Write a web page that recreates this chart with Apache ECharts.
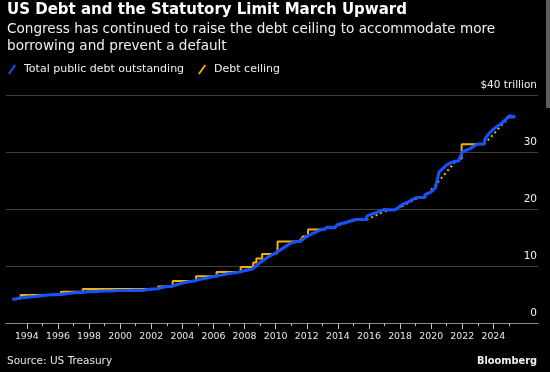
<!DOCTYPE html>
<html>
<head>
<meta charset="utf-8">
<script src="https://cdn.jsdelivr.net/npm/echarts@6/dist/echarts.min.js"></script>
<style>
html,body{margin:0;padding:0;background:#000;}
#chart{width:550px;height:372px;}
</style>
</head>
<body>
<div id="chart"></div>
<script>
// Total public debt outstanding ($ trillion), decimal year
const debtDates = [1993.08,1993.5,1994.0,1994.5,1995.0,1995.5,1995.88,1996.2,1996.3,1997.0,1997.5,1998.0,1998.5,1999.0,1999.5,2000.0,2000.5,2001.0,2001.5,2002.0,2002.38,2002.5,2003.0,2003.3,2003.4,2003.75,2004.0,2004.5,2004.85,2005.0,2005.5,2006.0,2006.2,2006.5,2007.0,2007.5,2007.75,2008.0,2008.5,2008.75,2009.0,2009.5,2010.0,2010.5,2011.0,2011.36,2011.58,2011.62,2012.0,2012.5,2012.97,2013.1,2013.3,2013.38,2013.78,2013.8,2014.0,2014.5,2015.0,2015.2,2015.83,2015.86,2016.0,2016.5,2017.0,2017.2,2017.68,2017.72,2018.0,2018.15,2018.5,2019.0,2019.17,2019.58,2019.6,2020.0,2020.27,2020.5,2021.0,2021.25,2021.6,2021.78,2021.82,2021.95,2022.0,2022.5,2022.97,2023.42,2023.46,2023.7,2024.0,2024.5,2024.8,2025.0,2025.4];
const debtValues = [4.17,4.35,4.54,4.64,4.80,4.95,4.98,4.99,5.10,5.30,5.38,5.50,5.55,5.61,5.64,5.71,5.69,5.73,5.73,5.94,6.02,6.13,6.40,6.46,6.55,6.78,7.00,7.27,7.40,7.60,7.84,8.17,8.27,8.42,8.68,8.87,9.00,9.19,9.49,10.02,10.63,11.55,12.31,13.17,14.03,14.29,14.29,14.60,15.22,15.86,16.43,16.43,16.77,16.74,16.74,17.08,17.29,17.63,18.08,18.15,18.15,18.75,18.92,19.38,19.94,19.85,19.85,20.20,20.49,20.80,21.20,21.97,22.03,22.03,22.50,23.00,23.70,26.45,27.75,28.10,28.43,28.43,28.90,29.60,30.00,30.60,31.40,31.46,32.30,33.20,34.00,35.00,35.70,36.30,36.20];

// Statutory debt limit ($ trillion); null = suspended
const ceilingDates = [1993.08,1993.3,1993.6,1996.2,1997.6,2002.45,2003.38,2004.88,2006.2,2007.75,2008.56,2008.76,2009.13,2009.99,2010.12,2011.59,2011.72,2012.08,2013.1,2013.2,2013.38,2013.79,2013.9,2015.2,2015.84,2016.5,2017.2,2017.69,2017.8,2017.94,2018.11,2018.5,2019.17,2019.59,2020.5,2021.58,2021.79,2021.96,2023.42,2024.2,2025.0,2025.4];
const ceilingValues = [4.145,4.37,4.9,5.5,5.95,6.4,7.384,8.184,8.965,9.815,10.615,11.315,12.104,12.394,14.294,14.694,15.194,16.394,16.394,null,16.699,16.699,null,18.113,18.113,null,19.809,19.809,null,20.456,20.456,null,21.988,21.988,null,28.401,28.881,31.381,31.381,null,36.1,36.1];

// Suspension periods drawn dotted between limits
const suspDates = [2013.1,2013.38,null,2013.79,2014.1,2015.2,null,2015.84,2017.2,null,2017.69,2017.94,null,2018.11,2019.17,null,2019.59,2021.58,null,2023.42,2025.0];
const suspValues = [16.394,16.699,null,16.699,17.212,18.113,null,18.113,19.809,null,19.809,20.456,null,20.456,21.988,null,21.988,28.401,null,31.381,36.1];

const yearLabels = [1994,1996,1998,2000,2002,2004,2006,2008,2010,2012,2014,2016,2018,2020,2022,2024];
const minorYears = [1995,1997,1999,2001,2003,2005,2007,2009,2011,2013,2015,2017,2019,2021,2023,2025];
const yTicks = [0,10,20,30,40];

const pairsWithGaps = (xs, ys) => xs.map((x, i) => (x === null || ys[i] === null) ? '-' : [x, ys[i]]);

const BLUE = '#1652ff';
const YELLOW = '#f2b400';
const XMIN = 1992.66, XMAX = 2026.87;

const chart = echarts.init(document.getElementById('chart'), null, {renderer: 'canvas'});
chart.setOption({
  backgroundColor: '#000',
  animation: false,
  title: [
    {text: 'US Debt and the Statutory Limit March Upward', left: 7, top: 1, padding: 0,
     textStyle: {color: '#fff', fontFamily: 'DejaVu Sans', fontWeight: 'bold', fontSize: 15, lineHeight: 18}},
    {text: 'Congress has continued to raise the debt ceiling to accommodate more\nborrowing and prevent a default', left: 7, top: 21.5, padding: 0,
     textStyle: {color: '#f0f0f0', fontFamily: 'DejaVu Sans', fontWeight: 'normal', fontSize: 13.6, lineHeight: 16.5}},
    {text: 'Source: US Treasury', left: 7, top: 354, padding: 0,
     textStyle: {color: '#e6e6e6', fontFamily: 'DejaVu Sans', fontWeight: 'normal', fontSize: 10.5, lineHeight: 14}},
    {text: 'Bloomberg', right: 13, top: 354, padding: 0,
     textStyle: {color: '#f0f0f0', fontFamily: 'DejaVu Sans', fontWeight: 'bold', fontSize: 9.8, lineHeight: 14}}
  ],
  legend: {
    left: 8, top: 64, padding: 0, itemGap: 14, itemWidth: 8, itemHeight: 10,
    data: [
      {name: 'Total public debt outstanding', icon: 'path://M0,9 L6.5,0 L8,1 L1.5,10 Z', itemStyle: {color: BLUE}},
      {name: 'Debt ceiling', icon: 'path://M0,9 L6.5,0 L8,1 L1.5,10 Z', itemStyle: {color: YELLOW}}
    ],
    textStyle: {color: '#f0f0f0', fontFamily: 'DejaVu Sans', fontSize: 11, padding: [0, 0, 0, 3]}
  },
  graphic: [
    {type: 'rect', shape: {x: 546, y: 0, width: 4, height: 108}, style: {fill: '#5c5c5c'}, silent: true}
  ],
  grid: {left: 6, right: 12, top: 95, bottom: 49, containLabel: false},
  xAxis: [
    {type: 'value', min: XMIN, max: XMAX, position: 'bottom',
     axisLine: {show: true, lineStyle: {color: '#8a8a8a', width: 1}},
     axisTick: {show: true, length: 6, lineStyle: {color: '#bdbdbd', width: 1}, customValues: yearLabels},
     axisLabel: {show: true, customValues: yearLabels, formatter: v => String(v), color: '#e8e8e8',
                 fontFamily: 'DejaVu Sans', fontSize: 9.4, lineHeight: 11, margin: 8},
     splitLine: {show: false}},
    {type: 'value', min: XMIN, max: XMAX, position: 'bottom', gridIndex: 0,
     axisLine: {show: false},
     axisTick: {show: true, length: 3, lineStyle: {color: '#bdbdbd', width: 1}, customValues: minorYears},
     axisLabel: {show: false},
     splitLine: {show: false}}
  ],
  yAxis: {
    type: 'value', position: 'right', min: 0, max: 40, interval: 10,
    axisLine: {show: false}, axisTick: {show: false},
    splitLine: {show: true, lineStyle: {color: '#3e3e3e', width: 1}},
    axisLabel: {inside: true, margin: 1, color: '#f0f0f0', fontFamily: 'DejaVu Sans', fontSize: 10.5,
                verticalAlign: 'bottom', lineHeight: 12, padding: [0, 0, 4, 0],
                formatter: v => v === 40 ? '$40 trillion' : String(v)}
  },
  series: [
    {name: 'Debt ceiling', type: 'line', step: 'end', showSymbol: false, connectNulls: false,
     data: pairsWithGaps(ceilingDates, ceilingValues), lineStyle: {color: YELLOW, width: 2}, itemStyle: {color: YELLOW}, z: 2},
    {name: 'Debt ceiling', type: 'line', showSymbol: false, connectNulls: false,
     data: pairsWithGaps(suspDates, suspValues), lineStyle: {color: YELLOW, width: 2, type: [2, 3]}, itemStyle: {color: YELLOW}, z: 2},
    {name: 'Total public debt outstanding', type: 'line', showSymbol: false,
     data: debtDates.map((d, i) => [d, debtValues[i]]), lineStyle: {color: BLUE, width: 3.1}, itemStyle: {color: BLUE}, z: 3}
  ]
});
</script>
</body>
</html>
